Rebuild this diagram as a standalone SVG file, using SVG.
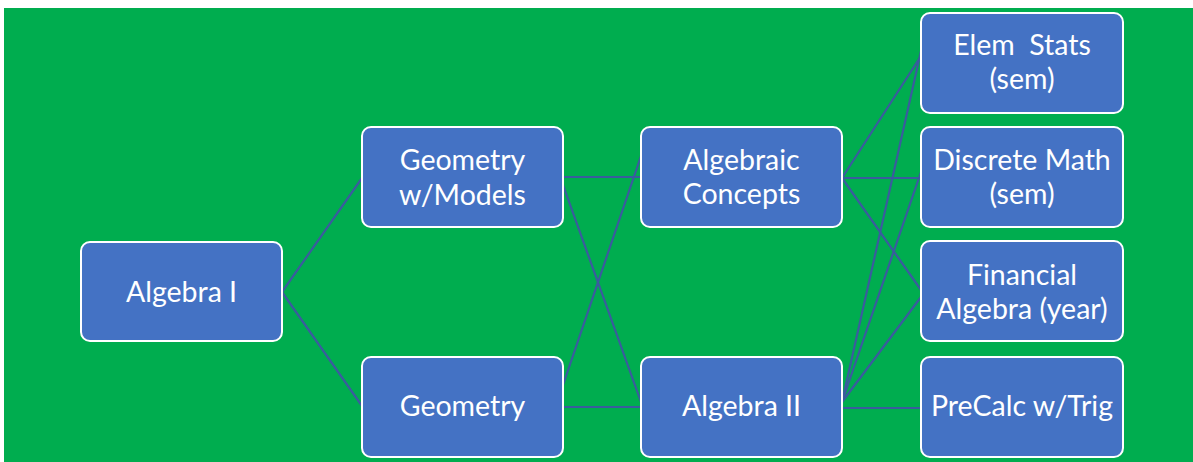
<svg xmlns="http://www.w3.org/2000/svg" width="1193" height="462" viewBox="0 0 1193 462">
  <style>
    .box { fill: #4472C4; stroke: #FFFFFF; stroke-width: 2; }
    .lbl { fill: #FFFFFF; font-family: Lato, "Open Sans", "Liberation Sans", sans-serif; font-size: 28.5px; text-anchor: middle; }
    .wire { stroke: #3A5C9E; stroke-width: 2.2; fill: none; stroke-linecap: round; }
  </style>
  <rect x="0" y="0" width="1193" height="462" fill="#FFFFFF"/>
  <rect x="4" y="8" width="1189" height="454" fill="#00AD4F"/>

  <g id="connectors">
    <line class="wire" x1="282" y1="292" x2="362" y2="178"/>
    <line class="wire" x1="282" y1="292" x2="362" y2="406"/>
    <line class="wire" x1="563" y1="177" x2="641" y2="177"/>
    <line class="wire" x1="563" y1="185" x2="641" y2="402"/>
    <line class="wire" x1="563" y1="385" x2="641" y2="156"/>
    <line class="wire" x1="563" y1="407" x2="641" y2="407"/>
    <line class="wire" x1="842" y1="178" x2="921" y2="56"/>
    <line class="wire" x1="842" y1="178" x2="921" y2="178"/>
    <line class="wire" x1="842" y1="178" x2="921" y2="290" stroke-width="2.6"/>
    <line class="wire" x1="842" y1="402" x2="921" y2="51"/>
    <line class="wire" x1="842" y1="402" x2="921" y2="172"/>
    <line class="wire" x1="842" y1="402" x2="921" y2="297"/>
    <line class="wire" x1="842" y1="408" x2="921" y2="408"/>
  </g>

  <g id="algebra1">
    <rect class="box" x="81" y="242" width="201" height="99" rx="9"/>
    <text class="lbl" x="181.5" y="302">Algebra I</text>
  </g>
  <g id="geometry-models">
    <rect class="box" x="362" y="127" width="201" height="100" rx="9"/>
    <text class="lbl" x="462.5" y="170">Geometry</text>
    <text class="lbl" x="462.5" y="205">w/Models</text>
  </g>
  <g id="geometry">
    <rect class="box" x="362" y="357" width="201" height="100" rx="9"/>
    <text class="lbl" x="462.5" y="416">Geometry</text>
  </g>
  <g id="algebraic-concepts">
    <rect class="box" x="641" y="127" width="201" height="100" rx="9"/>
    <text class="lbl" x="741.5" y="170">Algebraic</text>
    <text class="lbl" x="741.5" y="204">Concepts</text>
  </g>
  <g id="algebra2">
    <rect class="box" x="641" y="357" width="201" height="100" rx="9"/>
    <text class="lbl" x="741.5" y="416">Algebra II</text>
  </g>
  <g id="elem-stats">
    <rect class="box" x="921" y="13" width="202" height="100" rx="9"/>
    <text class="lbl" x="1022" y="55" xml:space="preserve">Elem  Stats</text>
    <text class="lbl" x="1022" y="89">(sem)</text>
  </g>
  <g id="discrete-math">
    <rect class="box" x="921" y="127" width="202" height="100" rx="9"/>
    <text class="lbl" x="1022" y="170">Discrete Math</text>
    <text class="lbl" x="1022" y="204">(sem)</text>
  </g>
  <g id="financial-algebra">
    <rect class="box" x="921" y="241" width="202" height="100" rx="9"/>
    <text class="lbl" x="1022" y="285">Financial</text>
    <text class="lbl" x="1022" y="319">Algebra (year)</text>
  </g>
  <g id="precalc">
    <rect class="box" x="921" y="357" width="202" height="100" rx="9"/>
    <text class="lbl" x="1022" y="416">PreCalc w/Trig</text>
  </g>
</svg>
